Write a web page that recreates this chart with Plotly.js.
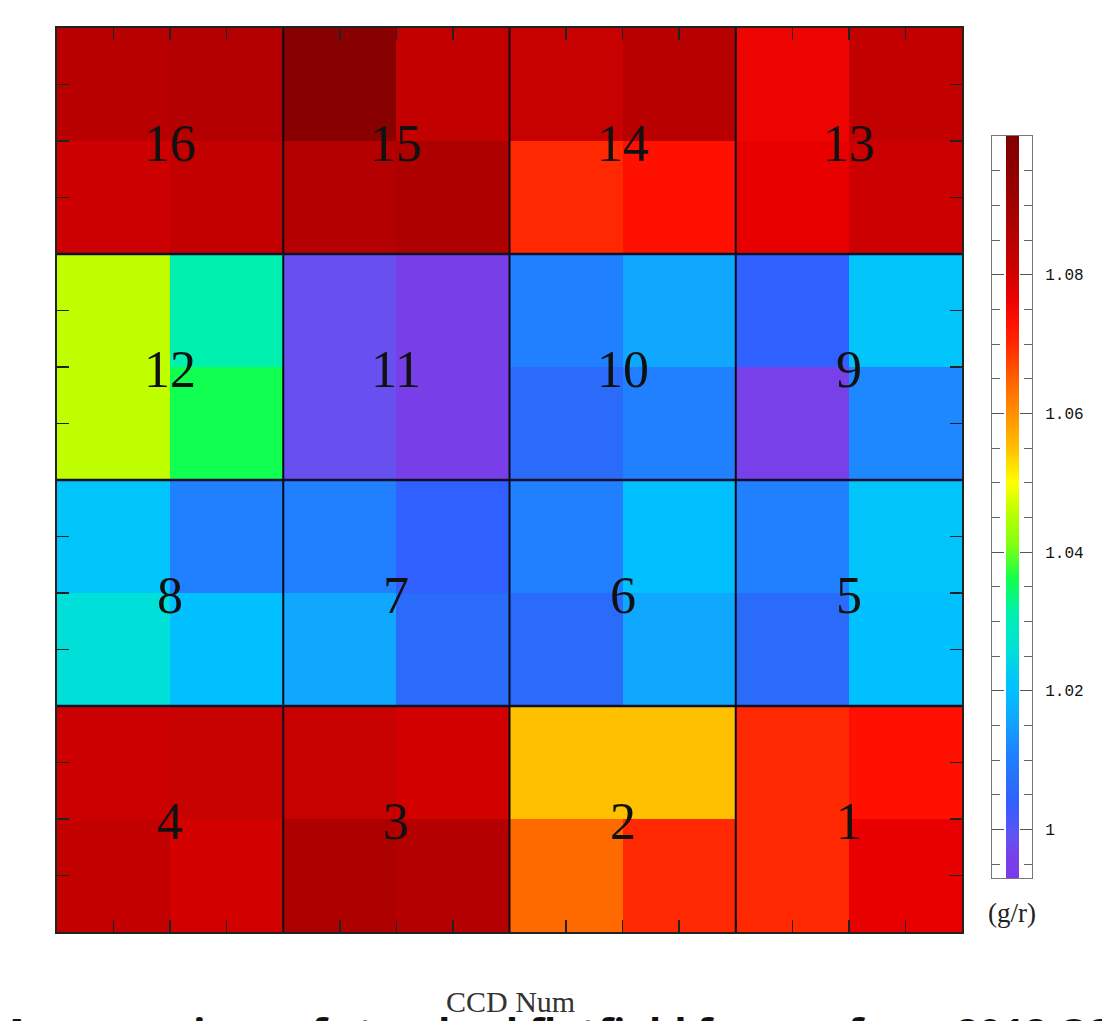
<!DOCTYPE html>
<html>
<head>
<meta charset="utf-8">
<script src="https://cdn.plot.ly/plotly-3.0.1.min.js"></script>
<style>html,body{margin:0;padding:0;background:#fff;}#chart{width:1102px;height:1021px;}</style>
</head>
<body>
<div id="chart"></div>
<script>
// Quadrant grid (each CCD split into 2x2 quadrants), rows bottom -> top, columns left -> right
const quadX = [0, 1, 2, 3, 4, 5, 6, 7];
const quadY = [0, 1, 2, 3, 4, 5, 6, 7];

// g/r flatfield ratio per quadrant (row 0 = bottom)
const ratioRow0 = [1.083, 1.080, 1.087, 1.086, 1.064, 1.070, 1.070, 1.077];
const ratioRow1 = [1.081, 1.082, 1.082, 1.080, 1.055, 1.055, 1.070, 1.073];
const ratioRow2 = [1.026, 1.020, 1.016, 1.006, 1.006, 1.016, 1.006, 1.020];
const ratioRow3 = [1.021, 1.011, 1.011, 1.004, 1.011, 1.020, 1.011, 1.021];
const ratioRow4 = [1.046, 1.036, 0.9985, 0.9955, 1.006, 1.011, 0.996, 1.012];
const ratioRow5 = [1.046, 1.031, 0.9985, 0.9955, 1.011, 1.016, 1.004, 1.021];
const ratioRow6 = [1.081, 1.083, 1.086, 1.087, 1.070, 1.073, 1.077, 1.081];
const ratioRow7 = [1.085, 1.086, 1.097, 1.083, 1.082, 1.085, 1.076, 1.083];

// CCD numbers per CCD row (bottom -> top), columns left -> right
const ccdRow0 = [4, 3, 2, 1];
const ccdRow1 = [8, 7, 6, 5];
const ccdRow2 = [12, 11, 10, 9];
const ccdRow3 = [16, 15, 14, 13];

const colorbarTicks = [1, 1.02, 1.04, 1.06, 1.08];
const zMin = 0.993, zMax = 1.100;

// colour table (value -> colour), rainbow as in the original
const scaleValues = [0.993, 0.996, 0.999, 1.001, 1.004, 1.007, 1.011, 1.016, 1.020, 1.022, 1.026, 1.031, 1.036, 1.041, 1.046, 1.050, 1.055, 1.060, 1.064, 1.070, 1.073, 1.077, 1.081, 1.086, 1.092, 1.100];
const scaleColors = ['#7b3aea', '#7840e8', '#6254f2', '#4c58f8', '#3060ff', '#2870f8', '#2080ff', '#10a8ff', '#00c0ff', '#00c8f5', '#00e0d8', '#00f0b0', '#10ff50', '#80ff10', '#c0ff00', '#ffff00', '#ffc000', '#ff9000', '#ff6a00', '#ff2800', '#ff1000', '#e80000', '#cc0000', '#b40000', '#980000', '#800000'];
const colorscale = scaleValues.map((v, i) => [(v - zMin) / (zMax - zMin), scaleColors[i]]);

const z = [ratioRow0, ratioRow1, ratioRow2, ratioRow3, ratioRow4, ratioRow5, ratioRow6, ratioRow7];
const ccdRows = [ccdRow0, ccdRow1, ccdRow2, ccdRow3];

const L = 57, R = 70, T = 28, B = 89, W = 1102, H = 1021;
const PW = W - L - R, PH = H - T - B;
const px2x = p => (p - L) / PW;
const px2y = p => (H - B - p) / PH;

const heat = {
  type: 'heatmap', x: quadX, y: quadY, z: z,
  zmin: zMin, zmax: zMax, colorscale: colorscale,
  hoverinfo: 'skip',
  colorbar: {
    thickness: 13, thicknessmode: 'pixels',
    len: (878 - 136) / PH, lenmode: 'fraction',
    x: px2x(1006), xanchor: 'left',
    y: px2y((136 + 878) / 2), yanchor: 'middle',
    xpad: 0, ypad: 0, outlinewidth: 0, borderwidth: 0,
    showticklabels: false, ticks: ''
  }
};
const dummy = {type: 'scatter', x: [], y: [], xaxis: 'x2', yaxis: 'y2', showlegend: false, hoverinfo: 'skip'};

const half = (quadX[1] - quadX[0]) / 2;
const shapes = [];
for (let c = 1; c < 4; c++) {
  const bx = (quadX[2 * c - 1] + quadX[2 * c]) / 2;
  shapes.push({type: 'line', xref: 'x', yref: 'y', x0: bx, x1: bx, y0: quadY[0] - half, y1: quadY[7] + half,
    line: {color: '#0a0a14', width: 2}, layer: 'above'});
  const by = (quadY[2 * c - 1] + quadY[2 * c]) / 2;
  shapes.push({type: 'line', xref: 'x', yref: 'y', y0: by, y1: by, x0: quadX[0] - half, x1: quadX[7] + half,
    line: {color: '#10102a', width: 2.5}, layer: 'above'});
}

const annotations = [];
ccdRows.forEach((row, r) => {
  row.forEach((num, c) => {
    annotations.push({
      xref: 'x', yref: 'y',
      x: (quadX[2 * c] + quadX[2 * c + 1]) / 2,
      y: (quadY[2 * r] + quadY[2 * r + 1]) / 2,
      text: String(num), showarrow: false, yshift: -2,
      font: {family: 'Liberation Serif, DejaVu Serif, serif', size: 52, color: '#111'}
    });
  });
});
annotations.push({xref: 'paper', yref: 'paper', x: px2x(1012), y: px2y(913), text: '(g/r)', showarrow: false,
  xanchor: 'center', yanchor: 'middle', font: {family: 'Liberation Serif, DejaVu Serif, serif', size: 27, color: '#222'}});
annotations.push({xref: 'paper', yref: 'paper', x: px2x(510), y: px2y(1001), text: 'CCD Num', showarrow: false,
  xanchor: 'center', yanchor: 'middle', font: {family: 'Liberation Serif, DejaVu Serif, serif', size: 30, color: '#333'}});
annotations.push({xref: 'paper', yref: 'paper', x: px2x(1), y: px2y(1002), text: '<b>A comparison of standard flatfield frames from 2012 Q3 and 2013</b>', showarrow: false,
  xanchor: 'left', yanchor: 'top', font: {family: 'Open Sans, Noto Sans, sans-serif', size: 40, color: '#111'}});

const mainAxis = {
  showgrid: false, zeroline: false, showticklabels: false,
  ticks: 'inside', tick0: quadX[0] - half, dtick: half, ticklen: 12, tickwidth: 1.5, tickcolor: '#222',
  showline: true, linecolor: '#222', linewidth: 2, mirror: 'ticks', layer: 'above traces'
};

const layout = {
  width: W, height: H,
  margin: {l: L, r: R, t: T, b: B, pad: 0},
  paper_bgcolor: '#ffffff', plot_bgcolor: '#ffffff',
  showlegend: false,
  xaxis: Object.assign({}, mainAxis, {domain: [0, (962 - L) / PW], range: [quadX[0] - half, quadX[7] + half], anchor: 'y'}),
  yaxis: Object.assign({}, mainAxis, {domain: [0, 1], range: [quadY[0] - half, quadY[7] + half], anchor: 'x'}),
  xaxis2: {domain: [px2x(992), 1], range: [0, 1], anchor: 'y2', showgrid: false, zeroline: false,
    showticklabels: false, ticks: '', showline: true, linecolor: '#777', linewidth: 1, mirror: true, fixedrange: true},
  yaxis2: {domain: [px2y(878), px2y(136)], range: [zMin, zMax], anchor: 'x2', side: 'right',
    showgrid: false, zeroline: false, tickvals: colorbarTicks,
    ticks: 'inside', ticklen: 12, tickwidth: 1, tickcolor: '#555',
    minor: {dtick: 0.005, tick0: 1, ticks: 'inside', ticklen: 8, tickwidth: 1, tickcolor: '#666'},
    showline: true, linecolor: '#777', linewidth: 1, mirror: 'allticks', layer: 'above traces',
    ticklabelstandoff: 9,
    tickfont: {family: 'Liberation Mono, DejaVu Sans Mono, monospace', size: 16, color: '#111'}, fixedrange: true},
  shapes: shapes,
  annotations: annotations
};

Plotly.newPlot('chart', [heat, dummy], layout, {staticPlot: true, displayModeBar: false});
</script>
</body>
</html>
